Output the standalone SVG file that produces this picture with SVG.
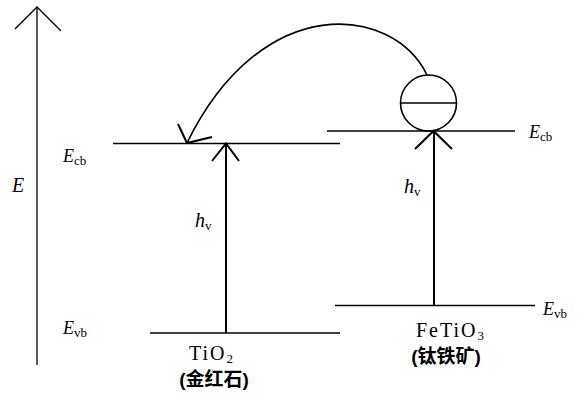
<svg xmlns="http://www.w3.org/2000/svg" width="582" height="395" viewBox="0 0 582 395">
<style>
.ln{stroke:#000;stroke-width:1.6;fill:none}
.ax{stroke:#000;stroke-width:1.3;fill:none}
.ar{stroke:#000;stroke-width:2;fill:none}
.t{font-family:"Liberation Serif",serif;fill:#000}
.it{font-style:italic}
.cj{font-family:"Liberation Sans","Noto Sans CJK SC",sans-serif;font-weight:bold;fill:#000}
</style>
<rect width="582" height="395" fill="#fff"/>
<g id="axis">
<line class="ax" x1="37" y1="365" x2="37" y2="7"/>
<polyline class="ax" points="15,29 37,7 61,31"/>
<text class="t it" x="12" y="192" font-size="20">E</text>
</g>
<g id="tio2">
<line class="ln" x1="113" y1="143.5" x2="340" y2="143.5"/>
<line class="ln" x1="150" y1="333" x2="340" y2="333"/>
<text class="t" x="63" y="162" font-size="18"><tspan class="it">E</tspan><tspan font-size="13" dy="3">cb</tspan></text>
<text class="t" x="63" y="334" font-size="18"><tspan class="it">E</tspan><tspan font-size="13" dy="3">vb</tspan></text>
<text class="t" x="189" y="360" font-size="20" letter-spacing="2">TiO<tspan font-size="13" dy="3" letter-spacing="0">2</tspan></text>
<text class="cj" x="214" y="386" font-size="19" text-anchor="middle">(金红石)</text>
</g>
<g id="fetio3">
<line class="ln" x1="327" y1="131" x2="515" y2="131"/>
<line class="ln" x1="335" y1="305.5" x2="535" y2="305.5"/>
<text class="t" x="529" y="138" font-size="18"><tspan class="it">E</tspan><tspan font-size="13" dy="3">cb</tspan></text>
<text class="t" x="543" y="315" font-size="18"><tspan class="it">E</tspan><tspan font-size="13" dy="3">vb</tspan></text>
<text class="t" x="416" y="337" font-size="20" letter-spacing="2">FeTiO<tspan font-size="13" dy="3" letter-spacing="0">3</tspan></text>
<text class="cj" x="446" y="363" font-size="19" text-anchor="middle">(钛铁矿)</text>
</g>
<g id="electron">
<circle class="ln" cx="428.5" cy="103" r="28"/>
<line class="ln" x1="400.5" y1="103" x2="456.5" y2="103"/>
</g>
<g id="connectors">
<line class="ar" x1="226" y1="333" x2="226" y2="144"/>
<polyline class="ar" points="212,161 226,143.5 239,161"/>
<text class="t it" x="195" y="227" font-size="20">h<tspan font-size="13" dy="3" font-style="normal">v</tspan></text>
<line class="ar" x1="434" y1="305" x2="434" y2="132"/>
<polyline class="ar" points="415,149 433.5,131 452,149"/>
<text class="t it" x="404" y="193" font-size="20">h<tspan font-size="13" dy="3" font-style="normal">v</tspan></text>
<path class="ln" d="M427,75 C393,5 262,-10 187,143"/>
<polyline class="ar" points="178,124 187,143 212,137"/>
</g>
</svg>
